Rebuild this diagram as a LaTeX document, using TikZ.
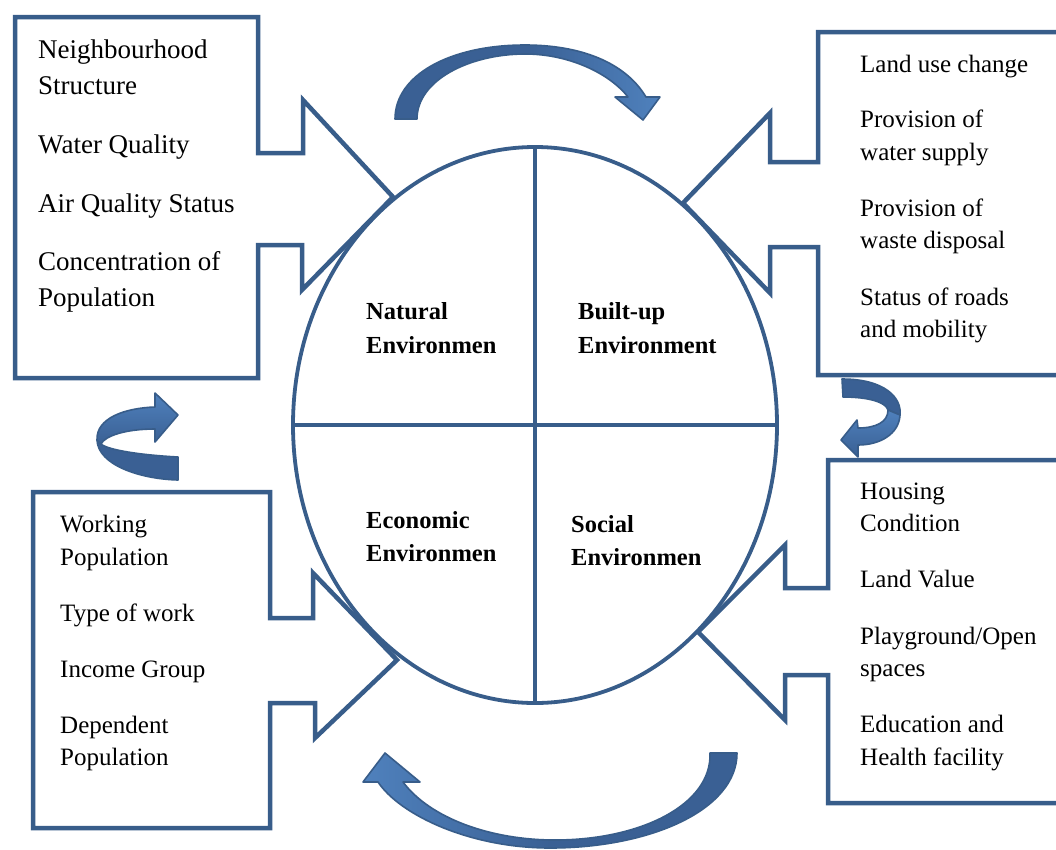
\documentclass[tikz,border=0pt]{standalone}
\usepackage{fontspec}
\setmainfont{Liberation Serif}
\usetikzlibrary{shapes.geometric}
\definecolor{edge}{RGB}{56,93,138}
\definecolor{adark}{RGB}{58,96,148}
\definecolor{alight}{RGB}{79,129,189}
\tikzset{
  callout/.style={draw=edge, line width=4.5pt, line join=miter},
  ring/.style={draw=edge, line width=3.8pt},
  lbl/.style={anchor=base west, inner sep=0pt, font=\fontsize{25}{30}\selectfont},
  lblbig/.style={anchor=base west, inner sep=0pt, font=\fontsize{27}{33}\selectfont},
  envlbl/.style={anchor=base west, inner sep=0pt, font=\fontsize{24.5}{30}\selectfont\bfseries},
  curl/.style={draw=edge, line width=1.6pt, line join=round},
}
\begin{document}
\begin{tikzpicture}[x=1pt,y=-1pt]
\useasboundingbox (0,0) rectangle (1056,849);
\clip (0,0) rectangle (1056,849);
\fill[white] (0,0) rectangle (1056,849);

% central ellipse and dividers
\node[ellipse, ring, minimum width=484pt, minimum height=556pt, inner sep=0pt, outer sep=0pt] (env) at (535,425) {};
\draw[ring] (env.north) -- (env.south);
\draw[ring] (env.west) -- (env.east);

% callout boxes
\draw[callout] (15,17) -- (258,17) -- (258,153) -- (303,153) -- (303,100) -- (393,197) -- (302,290) -- (302,245) -- (258,245) -- (258,378) -- (15,378) -- cycle;
\draw[callout] (1062,32) -- (818,32) -- (818,162) -- (770,162) -- (770,113) -- (683,203) -- (770,293) -- (770,247) -- (818,247) -- (818,375) -- (1062,375);
\draw[callout] (33,492) -- (270,492) -- (270,618) -- (313,618) -- (313,573) -- (397,660) -- (315,738) -- (315,703) -- (270,703) -- (270,828) -- (33,828) -- cycle;
\draw[callout] (1062,460) -- (828,460) -- (828,588) -- (785,588) -- (785,545) -- (698,632) -- (785,720) -- (785,675) -- (828,675) -- (828,803) -- (1062,803);

% environment labels
\node[envlbl] (nat1) at (366,319) {Natural};
\node[envlbl] (nat2) at (366,353) {Environmen};
\node[envlbl] (bui1) at (578,319) {Built-up};
\node[envlbl] (bui2) at (578,353) {Environment};
\node[envlbl] (eco1) at (366,528) {Economic};
\node[envlbl] (eco2) at (366,561) {Environmen};
\node[envlbl] (soc1) at (571,532) {Social};
\node[envlbl] (soc2) at (571,565) {Environmen};

% top-left texts
\node[lblbig] (tl1) at (38,58) {Neighbourhood};
\node[lblbig] (tl2) at (38,94) {Structure};
\node[lblbig] (tl3) at (38,153) {Water Quality};
\node[lblbig] (tl4) at (38,212) {Air Quality Status};
\node[lblbig] (tl5) at (38,270) {Concentration of};
\node[lblbig] (tl6) at (38,306) {Population};

% top-right texts
\node[lbl] (tr1) at (860,72) {Land use change};
\node[lbl] (tr2) at (860,127) {Provision of};
\node[lbl] (tr3) at (860,160) {water supply};
\node[lbl] (tr4) at (860,216) {Provision of};
\node[lbl] (tr5) at (860,248) {waste disposal};
\node[lbl] (tr6) at (860,305) {Status of roads};
\node[lbl] (tr7) at (860,337) {and mobility};

% bottom-left texts
\node[lbl] (bl1) at (60,532) {Working};
\node[lbl] (bl2) at (60,565) {Population};
\node[lbl] (bl3) at (60,621) {Type of work};
\node[lbl] (bl4) at (60,677) {Income Group};
\node[lbl] (bl5) at (60,733) {Dependent};
\node[lbl] (bl6) at (60,765) {Population};

% bottom-right texts
\node[lbl] (br1) at (860,499) {Housing};
\node[lbl] (br2) at (860,531) {Condition};
\node[lbl] (br3) at (860,587) {Land Value};
\node[lbl] (br4) at (860,644) {Playground/Open};
\node[lbl] (br5) at (860,676) {spaces};
\node[lbl] (br6) at (860,732) {Education and};
\node[lbl] (br7) at (860,765) {Health facility};

% top curved arrow
\draw[curl, left color=adark, right color=alight, middle color=adark]
  (395,119) -- (417,119) .. controls (417,80) and (470,54) .. (525,54)
  .. controls (570,54) and (610,74) .. (628,97) -- (615,97) -- (643,120) -- (660,97) -- (646,97)
  .. controls (625,62) and (580,45) .. (525,45) .. controls (450,45) and (395,75) .. (395,119) -- cycle;

% bottom curved arrow
\draw[curl, left color=alight, right color=adark, middle color=adark]
  (710,753) -- (737,753) .. controls (737,810) and (650,848) .. (550,848)
  .. controls (470,848) and (400,815) .. (378,782) -- (363,782) -- (385,753) -- (420,782) -- (403,782)
  .. controls (430,818) and (490,840) .. (555,840) .. controls (640,840) and (712,805) .. (710,753) -- cycle;

% left curl arrow
\draw[curl, fill=adark]
  (97,440) .. controls (98,465) and (140,479) .. (178,480) -- (178,457)
  .. controls (140,455) and (108,450) .. (101,444) -- cycle;
\draw[curl, top color=alight, bottom color=adark]
  (97,440) .. controls (96,418) and (125,408) .. (155,407) -- (155,393) -- (178,415) -- (155,442) -- (155,429)
  .. controls (125,429) and (105,436) .. (101,444) -- cycle;

% right curl arrow
\draw[curl, fill=adark]
  (842,379) .. controls (885,379) and (902,398) .. (900,415) -- (888,410)
  .. controls (886,402) and (868,397) .. (843,397) -- cycle;
\draw[curl, top color=alight, bottom color=adark]
  (900,415) .. controls (899,434) and (880,445) .. (858,445) -- (858,457) -- (841,440) -- (857,420) -- (858,428)
  .. controls (876,428) and (888,422) .. (888,410) -- cycle;
\end{tikzpicture}
\end{document}
